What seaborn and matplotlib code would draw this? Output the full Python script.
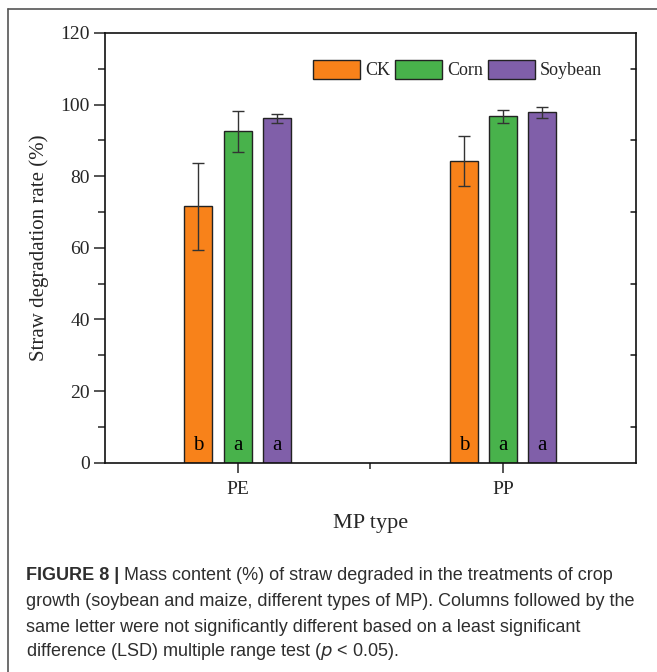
import pandas as pd
import seaborn as sns
import matplotlib.pyplot as plt
from matplotlib.lines import Line2D
from matplotlib.ticker import MultipleLocator, FixedLocator

mp_types = ['PE', 'PP']
treatments = ['CK', 'Corn', 'Soybean']
ck_mean = [71.6, 84.3]
corn_mean = [92.6, 96.7]
soy_mean = [96.2, 97.8]
ck_sd = [12.2, 7.0]
corn_sd = [5.7, 1.7]
soy_sd = [1.3, 1.5]
ck_letters = ['b', 'b']
corn_letters = ['a', 'a']
soy_letters = ['a', 'a']

data = pd.DataFrame({
    'mp': mp_types * 3,
    'treatment': [t for t in treatments for _ in mp_types],
    'rate': ck_mean + corn_mean + soy_mean,
    'sd': ck_sd + corn_sd + soy_sd,
    'letter': ck_letters + corn_letters + soy_letters,
})

colors = ['#F8821A', '#48B24B', '#805FA9']

sns.set_style('ticks')
plt.rcParams['font.family'] = ['Liberation Serif', 'DejaVu Serif']

fig = plt.figure(figsize=(6.57, 6.72), dpi=100)
ax = fig.add_axes([0.1598, 0.3115, 0.808, 0.6394])

sns.barplot(data=data, x='mp', y='rate', hue='treatment', order=mp_types,
            hue_order=treatments, palette=colors, saturation=1, width=0.444, gap=0.29,
            errorbar=None, edgecolor='#222222', linewidth=1.0, legend=False, ax=ax)

for cont, t in zip(ax.containers, treatments):
    sub = data[data['treatment'] == t].set_index('mp').loc[mp_types]
    xs = [b.get_x() + b.get_width() / 2 for b in cont.patches]
    ax.errorbar(xs, sub['rate'], yerr=sub['sd'], fmt='none', ecolor='#333333',
                elinewidth=1.0, capsize=4.5, capthick=1.0, zorder=5)
    for x, let in zip(xs, sub['letter']):
        ax.text(x, 4.8, let, ha='center', va='center', fontsize=15, color='black')

ax.set_xlim(-0.5, 1.5)
ax.set_ylim(0, 120)
ax.yaxis.set_major_locator(MultipleLocator(20))
ax.yaxis.set_minor_locator(MultipleLocator(10))
ax.xaxis.set_minor_locator(FixedLocator([0.5]))
ax.tick_params(axis='y', which='major', direction='out', length=8, width=1.1, labelsize=14, pad=3)
ax.tick_params(axis='y', which='minor', direction='out', length=5, width=1.1)
ax.tick_params(axis='x', which='major', direction='out', length=7, width=1.1, labelsize=14, pad=6)
ax.tick_params(axis='x', which='minor', direction='out', length=4, width=1.1)
for s in ax.spines.values():
    s.set_linewidth(1.2)
    s.set_color('#111111')

# right axis ticks (inward, at the odd tens)
for yv in range(10, 120, 20):
    ax.plot([1.0, 0.99], [yv, yv], transform=ax.get_yaxis_transform(),
            color='#111111', lw=1.1, clip_on=False)

ax.set_xlabel('MP type', fontsize=16, labelpad=12)
ax.set_ylabel('Straw degradation rate (%)', fontsize=15, labelpad=8)

ax.legend(ax.containers, treatments, ncol=3, loc='upper right',
          bbox_to_anchor=(0.95, 0.955), frameon=False, fontsize=13,
          handlelength=2.6, handleheight=1.3, columnspacing=0.25,
          handletextpad=0.3, borderaxespad=0.0)

# figure frame (top and left)
fig.add_artist(Line2D([8 / 657, 1.0], [1 - 9 / 672, 1 - 9 / 672], color='#555555', lw=1.2))
fig.add_artist(Line2D([8 / 657, 8 / 657], [1 - 9 / 672, 0.0], color='#555555', lw=1.2))

caption_lines = [
    ' Mass content (%) of straw degraded in the treatments of crop',
    'growth (soybean and maize, different types of MP). Columns followed by the',
    'same letter were not significantly different based on a least significant',
    'difference (LSD) multiple range test ($\\it{p}$ < 0.05).',
]
cap_font = ['Liberation Sans', 'DejaVu Sans']
cap_color = '#2e2e2e'
cap_size = 13.0
x0 = 26 / 657
ys = [575, 602, 627, 651]
bold = fig.text(x0, 1 - ys[0] / 672, 'FIGURE 8 |', fontsize=cap_size, fontweight='bold',
                family=cap_font, color=cap_color, va='center', ha='left')
fig.canvas.draw()
bb = bold.get_window_extent()
fig.text(bb.x1 / fig.bbox.width, 1 - ys[0] / 672, caption_lines[0], fontsize=cap_size,
         family=cap_font, color=cap_color, va='center', ha='left')
for line, yy in zip(caption_lines[1:], ys[1:]):
    fig.text(x0, 1 - yy / 672, line, fontsize=cap_size, family=cap_font,
             color=cap_color, va='center', ha='left')

fig.savefig('out.png', dpi=100)
